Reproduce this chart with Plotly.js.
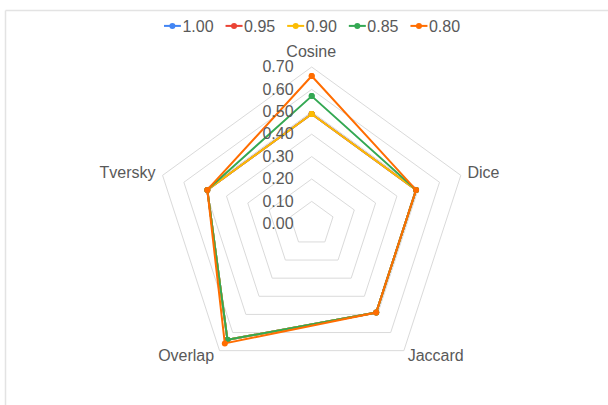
<!DOCTYPE html>
<html>
<head>
<meta charset="utf-8">
<script src="https://cdn.plot.ly/plotly-3.0.1.min.js"></script>
<style>
  html, body { margin: 0; padding: 0; background: #fff; }
  #chart { width: 608px; height: 405px; }
</style>
</head>
<body>
<div id="chart"></div>
<script>
// Similarity measures on the spokes, one series per threshold
const categories = ['Cosine', 'Dice', 'Jaccard', 'Overlap', 'Tversky'];
const seriesNames = ['1.00', '0.95', '0.90', '0.85', '0.80'];
const values100 = [0.49, 0.49, 0.49, 0.64, 0.49];
const values095 = [0.49, 0.49, 0.49, 0.64, 0.49];
const values090 = [0.49, 0.49, 0.49, 0.64, 0.49];
const values085 = [0.57, 0.49, 0.49, 0.64, 0.49];
const values080 = [0.66, 0.49, 0.49, 0.66, 0.49];
const radialTicks = [0, 0.1, 0.2, 0.3, 0.4, 0.5, 0.6, 0.7];

const seriesValues = [values100, values095, values090, values085, values080];
const colors = ['#4285F4', '#EA4335', '#FBBC04', '#34A853', '#FF6D01'];

const FONT = 'Arial, "Liberation Sans", sans-serif';
const TEXT = '#595959';
const GRID = '#dadada';

// close each polygon by repeating the first spoke
const traces = seriesValues.map((vals, i) => ({
  type: 'scatterpolar',
  mode: 'lines+markers',
  name: seriesNames[i],
  r: vals.concat([vals[0]]),
  theta: categories.concat([categories[0]]),
  line: { color: colors[i], width: 2 },
  marker: { color: colors[i], size: 6 },
  cliponaxis: false,
  hoverinfo: 'skip'
}));

const layout = {
  width: 608,
  height: 405,
  margin: { l: 0, r: 0, t: 0, b: 0 },
  paper_bgcolor: '#ffffff',
  font: { family: FONT, size: 16, color: TEXT },
  showlegend: true,
  legend: {
    orientation: 'h',
    x: 0.5, xanchor: 'center',
    y: 1 - 26 / 405, yanchor: 'middle',
    font: { family: FONT, size: 16, color: TEXT },
    bgcolor: 'rgba(0,0,0,0)',
    traceorder: 'normal'
  },
  polar: {
    domain: { x: [154.9 / 608, 468.5 / 608], y: [1 - 380.6 / 405, 1 - 67 / 405] },
    bgcolor: 'rgba(0,0,0,0)',
    gridshape: 'linear',
    radialaxis: {
      range: [0, 0.7],
      tickvals: radialTicks,
      tickformat: '.2f',
      angle: 90,
      side: 'counterclockwise',
      showline: false,
      showgrid: true,
      gridcolor: GRID,
      gridwidth: 1,
      ticks: 'outside',
      ticklen: 12,
      tickcolor: 'rgba(0,0,0,0)',
      tickangle: 90,
      tickfont: { family: FONT, size: 16, color: TEXT }
    },
    angularaxis: {
      type: 'category',
      categoryarray: categories,
      direction: 'clockwise',
      rotation: 90,
      showgrid: false,
      showline: true,
      linecolor: GRID,
      linewidth: 1,
      ticks: '',
      tickfont: { family: FONT, size: 16, color: TEXT }
    }
  },
  shapes: [
    { type: 'line', xref: 'paper', yref: 'paper', x0: 5.5 / 608, x1: 1, y0: 1 - 10.5 / 405, y1: 1 - 10.5 / 405,
      line: { color: '#e3e3e3', width: 1.5 } },
    { type: 'line', xref: 'paper', yref: 'paper', x0: 5.5 / 608, x1: 5.5 / 608, y0: 0, y1: 1 - 10.5 / 405,
      line: { color: '#e3e3e3', width: 1.5 } }
  ]
};

// spoke label centres, placed just outside the outer ring
const labelCentres = {
  Cosine: [311.3, 51],
  Dice: [483.5, 172.8],
  Jaccard: [435.7, 355.5],
  Overlap: [186.2, 355.5],
  Tversky: [127.5, 172.8]
};

function placeSpokeLabels(gd) {
  const host = gd.getBoundingClientRect();
  gd.querySelectorAll('svg text').forEach(t => {
    const target = labelCentres[t.textContent.trim()];
    if (!target) return;
    const b = t.getBoundingClientRect();
    const dx = target[0] - (b.left - host.left + b.width / 2);
    const dy = target[1] - (b.top - host.top + b.height / 2);
    const tr = t.getAttribute('transform') || '';
    t.setAttribute('transform', 'translate(' + dx + ',' + dy + ') ' + tr);
  });
}

// compact legend entries: short line swatch and tight spacing
function compactLegend(gd) {
  const legend = gd.querySelector('g.legend');
  if (!legend) return;
  const items = legend.querySelectorAll('g.traces');
  let x = 0;
  items.forEach(item => {
    const line = item.querySelector('path.js-line');
    if (line) line.setAttribute('d', 'M0,0h17');
    item.querySelectorAll('path.scatterpts').forEach(p => p.setAttribute('transform', 'translate(8.5,0)'));
    const txt = item.querySelector('text.legendtext');
    let tw = 31;
    if (txt) {
      txt.setAttribute('x', 18.5);
      tw = txt.getComputedTextLength();
    }
    const m = /translate\(\s*[-\d.]+[ ,]\s*([-\d.]+)\)/.exec(item.getAttribute('transform') || '');
    const y = m ? parseFloat(m[1]) : 0;
    item.setAttribute('transform', 'translate(' + x + ',' + y + ')');
    const toggle = item.querySelector('rect.legendtoggle');
    if (toggle) toggle.setAttribute('width', 18.5 + tw);
    x += 18.5 + tw + 12;
  });
  const total = x - 12;
  const first = items[0] && items[0].querySelector('path.js-line');
  if (!first) return;
  const host = gd.getBoundingClientRect();
  const box = first.getBoundingClientRect();
  const targetLeft = 312 - total / 2;
  const mt = /translate\(\s*([-\d.]+)[ ,]\s*([-\d.]+)\)/.exec(legend.getAttribute('transform') || '');
  const lx = mt ? parseFloat(mt[1]) : 0;
  const ly = mt ? parseFloat(mt[2]) : 0;
  legend.setAttribute('transform', 'translate(' + (lx + targetLeft - (box.left - host.left)) + ',' + ly + ')');
  const bg = legend.querySelector('rect.bg');
  if (bg) bg.setAttribute('width', total + 10);
}

Plotly.newPlot('chart', traces, layout, { displayModeBar: false, staticPlot: true })
  .then(gd => { compactLegend(gd); placeSpokeLabels(gd); });
</script>
</body>
</html>
